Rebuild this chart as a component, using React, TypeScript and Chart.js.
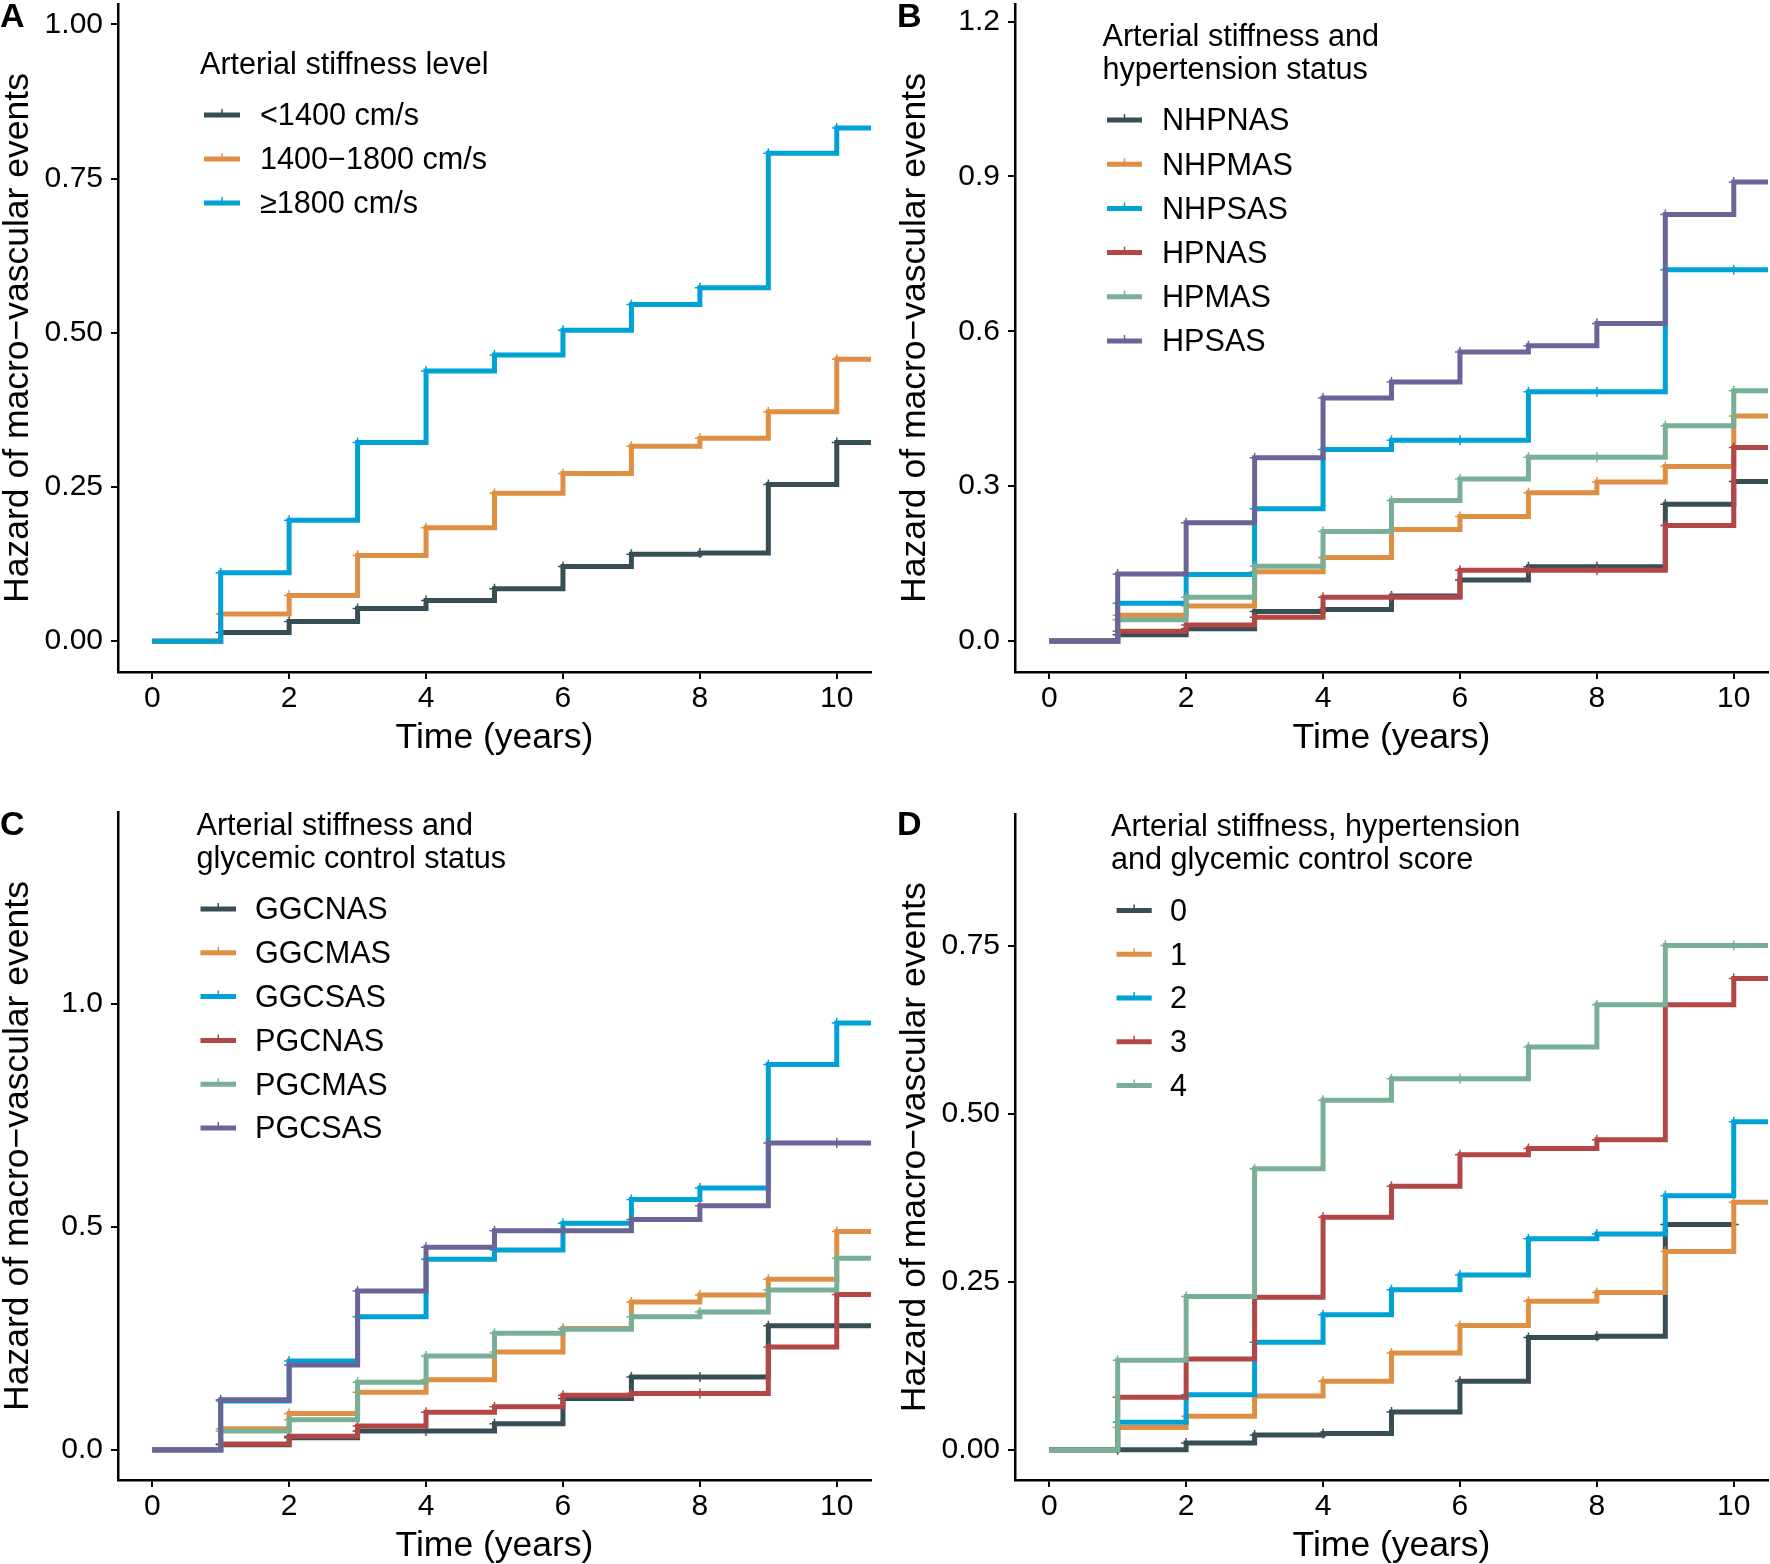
import React, { useEffect, useRef } from 'react';
import { Chart, registerables } from 'chart.js';

Chart.register(...registerables);

const FONT = "'Liberation Sans', Arial, Helvetica, sans-serif";

// ---------- shared axis data ----------
const TIMES = [0, 1, 2, 3, 4, 5, 6, 7, 8, 9, 10];
const X_TICKS = [0, 2, 4, 6, 8, 10];
const X_MIN = -0.5;
const X_MAX = 10.5;
const X_TITLE = 'Time (years)';
const Y_TITLE = 'Hazard of macro\u2212vascular events';
const COLORS = ['#374E55', '#DF8F44', '#00A1D5', '#B24745', '#79AF97', '#6A6599'];

// ---------- Panel A ----------
const A_TITLE = ['Arterial stiffness level'];
const A_LABELS = ['<1400 cm/s', '1400\u22121800 cm/s', '\u22651800 cm/s'];
const A_LOW = [0, 0.014, 0.032, 0.053, 0.066, 0.085, 0.121, 0.141, 0.143, 0.254, 0.322];
const A_MID = [0, 0.044, 0.074, 0.139, 0.184, 0.24, 0.272, 0.316, 0.329, 0.372, 0.457];
const A_HIGH = [0, 0.111, 0.196, 0.322, 0.438, 0.464, 0.504, 0.546, 0.573, 0.791, 0.832];
const A_Y_TICKS = ['0.00', '0.25', '0.50', '0.75', '1.00'];
const A_Y_RANGE = [-0.05, 1.033];

// ---------- Panel B ----------
const B_TITLE = ['Arterial stiffness and', 'hypertension status'];
const B_LABELS = ['NHPNAS', 'NHPMAS', 'NHPSAS', 'HPNAS', 'HPMAS', 'HPSAS'];
const B_NHPNAS = [0, 0.012, 0.024, 0.057, 0.061, 0.087, 0.118, 0.144, 0.144, 0.265, 0.309];
const B_NHPMAS = [0, 0.05, 0.068, 0.134, 0.162, 0.216, 0.241, 0.287, 0.308, 0.338, 0.436];
const B_NHPSAS = [0, 0.073, 0.129, 0.256, 0.371, 0.389, 0.389, 0.483, 0.483, 0.719, 0.719];
const B_HPNAS = [0, 0.019, 0.031, 0.046, 0.085, 0.085, 0.137, 0.137, 0.137, 0.224, 0.375];
const B_HPMAS = [0, 0.041, 0.085, 0.145, 0.212, 0.272, 0.314, 0.356, 0.356, 0.417, 0.485];
const B_HPSAS = [0, 0.13, 0.229, 0.355, 0.471, 0.502, 0.56, 0.572, 0.615, 0.826, 0.889];
const B_Y_TICKS = ['0.0', '0.3', '0.6', '0.9', '1.2'];
const B_Y_RANGE = [-0.06, 1.234];

// ---------- Panel C ----------
const C_TITLE = ['Arterial stiffness and', 'glycemic control status'];
const C_LABELS = ['GGCNAS', 'GGCMAS', 'GGCSAS', 'PGCNAS', 'PGCMAS', 'PGCSAS'];
const C_GGCNAS = [0, 0.011, 0.027, 0.042, 0.042, 0.058, 0.115, 0.163, 0.163, 0.278, 0.278];
const C_GGCMAS = [0, 0.047, 0.081, 0.129, 0.157, 0.219, 0.272, 0.331, 0.347, 0.382, 0.489];
const C_GGCSAS = [0, 0.109, 0.199, 0.298, 0.427, 0.448, 0.508, 0.561, 0.587, 0.864, 0.957];
const C_PGCNAS = [0, 0.013, 0.03, 0.053, 0.084, 0.096, 0.122, 0.126, 0.126, 0.23, 0.348];
const C_PGCMAS = [0, 0.042, 0.067, 0.151, 0.21, 0.261, 0.27, 0.298, 0.309, 0.358, 0.429];
const C_PGCSAS = [0, 0.112, 0.19, 0.356, 0.454, 0.491, 0.491, 0.516, 0.547, 0.688, 0.688];
const C_Y_TICKS = ['0.0', '0.5', '1.0'];
const C_Y_RANGE = [-0.068, 1.43];

// ---------- Panel D ----------
const D_TITLE = ['Arterial stiffness, hypertension', 'and glycemic control score'];
const D_LABELS = ['0', '1', '2', '3', '4'];
const D_S0 = [0, 0.0, 0.01, 0.022, 0.024, 0.056, 0.102, 0.167, 0.169, 0.335, 0.335];
const D_S1 = [0, 0.033, 0.05, 0.08, 0.102, 0.144, 0.185, 0.221, 0.234, 0.295, 0.368];
const D_S2 = [0, 0.041, 0.082, 0.16, 0.201, 0.238, 0.26, 0.314, 0.321, 0.378, 0.488];
const D_S3 = [0, 0.078, 0.135, 0.227, 0.346, 0.392, 0.439, 0.448, 0.461, 0.662, 0.701];
const D_S4 = [0, 0.133, 0.228, 0.418, 0.52, 0.552, 0.552, 0.599, 0.662, 0.75, 0.75];
const D_ENDS = [10, X_MAX, X_MAX, X_MAX, X_MAX];
const D_Y_TICKS = ['0.00', '0.25', '0.50', '0.75'];
const D_Y_RANGE = [-0.045, 0.945];

// ---------- layout ----------
const PANEL_W = 897;
const PANEL_H = 808;
const TICK_SIZE = 30;
const TITLE_SIZE = 35.5;
const LEGEND_SIZE = 30.6;
const TEXT_DY = 2;

type LegendCfg = {
  titleX: number; titleY: number; titleGap: number;
  itemY: number; itemGap: number; lineX1: number; lineX2: number; textX: number;
};

type PanelCfg = {
  letter: string; col: number; row: number;
  title: string[]; labels: string[]; series: number[][]; ends?: number[];
  yTicks: string[]; yRange: number[]; legend: LegendCfg;
};

const PANELS: PanelCfg[] = [
  {
    letter: 'A', col: 0, row: 0, title: A_TITLE, labels: A_LABELS,
    series: [A_LOW, A_MID, A_HIGH], yTicks: A_Y_TICKS, yRange: A_Y_RANGE,
    legend: { titleX: 200, titleY: 64, titleGap: 33, itemY: 115, itemGap: 44, lineX1: 204, lineX2: 240, textX: 260 },
  },
  {
    letter: 'B', col: 1, row: 0, title: B_TITLE, labels: B_LABELS,
    series: [B_NHPNAS, B_NHPMAS, B_NHPSAS, B_HPNAS, B_HPMAS, B_HPSAS], yTicks: B_Y_TICKS, yRange: B_Y_RANGE,
    legend: { titleX: 205.5, titleY: 36, titleGap: 33, itemY: 120, itemGap: 44.2, lineX1: 210, lineX2: 245, textX: 265 },
  },
  {
    letter: 'C', col: 0, row: 1, title: C_TITLE, labels: C_LABELS,
    series: [C_GGCNAS, C_GGCMAS, C_GGCSAS, C_PGCNAS, C_PGCMAS, C_PGCSAS], yTicks: C_Y_TICKS, yRange: C_Y_RANGE,
    legend: { titleX: 196.5, titleY: 16.5, titleGap: 33.5, itemY: 101, itemGap: 43.8, lineX1: 200.5, lineX2: 236, textX: 255 },
  },
  {
    letter: 'D', col: 1, row: 1, title: D_TITLE, labels: D_LABELS,
    series: [D_S0, D_S1, D_S2, D_S3, D_S4], ends: D_ENDS, yTicks: D_Y_TICKS, yRange: D_Y_RANGE,
    legend: { titleX: 214, titleY: 17.5, titleGap: 33.5, itemY: 102.5, itemGap: 43.75, lineX1: 219.6, lineX2: 254.7, textX: 273 },
  },
];

function makeOverlay(cfg: PanelCfg) {
  return {
    id: 'kmOverlay',
    afterDraw(chart: any) {
      const ctx = chart.ctx as CanvasRenderingContext2D;
      const lg = cfg.legend;
      ctx.save();
      ctx.fillStyle = '#000';
      ctx.textAlign = 'left';
      ctx.textBaseline = 'middle';
      ctx.font = `${LEGEND_SIZE}px ${FONT}`;
      cfg.title.forEach((line, i) => ctx.fillText(line, lg.titleX, lg.titleY + i * lg.titleGap + TEXT_DY));
      chart.data.datasets.forEach((ds: any, i: number) => {
        const y = lg.itemY + i * lg.itemGap;
        ctx.strokeStyle = ds.borderColor;
        ctx.lineCap = 'butt';
        ctx.lineWidth = 5;
        ctx.beginPath();
        ctx.moveTo(lg.lineX1, y);
        ctx.lineTo(lg.lineX2, y);
        ctx.stroke();
        const cx = (lg.lineX1 + lg.lineX2) / 2;
        ctx.lineWidth = 1.5;
        ctx.beginPath();
        ctx.moveTo(cx, y - 6);
        ctx.lineTo(cx, y + 2);
        ctx.stroke();
        ctx.fillStyle = '#000';
        ctx.fillText(ds.label, lg.textX, y + TEXT_DY);
      });
      ctx.font = `bold 34px ${FONT}`;
      ctx.textBaseline = 'alphabetic';
      ctx.fillText(cfg.letter, 0, 27);
      ctx.restore();
    },
  };
}

function buildDatasets(cfg: PanelCfg) {
  return cfg.series.map((vals, i) => {
    const end = cfg.ends ? cfg.ends[i] : X_MAX;
    const pts = TIMES.map((t, k) => ({ x: t, y: vals[k] }));
    const radii = TIMES.map((t) => (t === 0 ? 0 : 5));
    if (end > TIMES[TIMES.length - 1]) {
      pts.push({ x: end, y: vals[vals.length - 1] });
      radii.push(0);
    }
    const color = COLORS[i];
    return {
      label: cfg.labels[i],
      data: pts,
      borderColor: color,
      backgroundColor: color,
      borderWidth: 5,
      borderCapStyle: 'butt',
      borderJoinStyle: 'miter',
      stepped: 'before',
      fill: false,
      tension: 0,
      pointStyle: 'cross',
      pointRadius: radii,
      pointHoverRadius: radii,
      pointBorderWidth: 1.5,
      pointBorderColor: color,
      order: -i,
    };
  });
}

const axisGrid = {
  display: true,
  drawOnChartArea: false,
  drawTicks: true,
  tickLength: 7,
  tickWidth: 2,
  tickColor: '#000',
  color: '#000',
  lineWidth: 2,
};
const axisBorder = { display: true, color: '#000', width: 2.5 };

function Panel({ cfg }: { cfg: PanelCfg }) {
  const ref = useRef<HTMLCanvasElement>(null);
  useEffect(() => {
    const canvas = ref.current;
    if (!canvas) return;
    const yVals = cfg.yTicks.map((s) => parseFloat(s));
    const chart = new Chart(canvas, {
      type: 'line',
      data: { datasets: buildDatasets(cfg) as any },
      options: {
        animation: false,
        responsive: false,
        devicePixelRatio: 1,
        events: [],
        layout: { padding: { left: 0, top: 4, right: 26, bottom: 52.5 } },
        plugins: { legend: { display: false }, tooltip: { enabled: false } },
        scales: {
          x: {
            type: 'linear',
            min: X_MIN,
            max: X_MAX,
            bounds: 'data',
            afterBuildTicks: (s: any) => {
              s.ticks = X_TICKS.map((v) => ({ value: v }));
            },
            afterFit: (s: any) => {
              s.height = 83.5;
              s.paddingLeft = 0;
              s.paddingRight = 0;
            },
            ticks: {
              autoSkip: false,
              maxRotation: 0,
              minRotation: 0,
              padding: 5,
              color: '#000',
              font: { family: FONT, size: TICK_SIZE, lineHeight: 1 },
              callback: (v: any) => String(v),
            },
            grid: axisGrid,
            border: axisBorder,
            title: {
              display: true,
              text: X_TITLE,
              color: '#000',
              font: { family: FONT, size: TITLE_SIZE, lineHeight: 1 },
              padding: 0,
            },
          },
          y: {
            type: 'linear',
            min: cfg.yRange[0],
            max: cfg.yRange[1],
            bounds: 'data',
            afterBuildTicks: (s: any) => {
              s.ticks = yVals.map((v) => ({ value: v }));
            },
            afterFit: (s: any) => {
              s.width = 118;
              s.paddingTop = 0;
              s.paddingBottom = 0;
            },
            ticks: {
              autoSkip: false,
              padding: 8,
              color: '#000',
              font: { family: FONT, size: TICK_SIZE, lineHeight: 1 },
              callback: (_v: any, i: number) => cfg.yTicks[i],
            },
            grid: axisGrid,
            border: axisBorder,
            title: {
              display: true,
              text: Y_TITLE,
              color: '#000',
              font: { family: FONT, size: TITLE_SIZE, lineHeight: 1 },
              padding: 0,
            },
          },
        },
      } as any,
      plugins: [makeOverlay(cfg)],
    });
    return () => chart.destroy();
  }, [cfg]);
  return (
    <canvas
      ref={ref}
      width={PANEL_W}
      height={PANEL_H}
      style={{
        position: 'absolute',
        left: cfg.col * PANEL_W,
        top: cfg.row * PANEL_H,
        width: PANEL_W,
        height: PANEL_H,
      }}
    />
  );
}

export default function App() {
  return (
    <div
      style={{
        position: 'absolute',
        left: 0,
        top: 0,
        width: 1770,
        height: 1564,
        overflow: 'hidden',
        background: '#fff',
      }}
    >
      {PANELS.map((p) => (
        <Panel key={p.letter} cfg={p} />
      ))}
    </div>
  );
}
